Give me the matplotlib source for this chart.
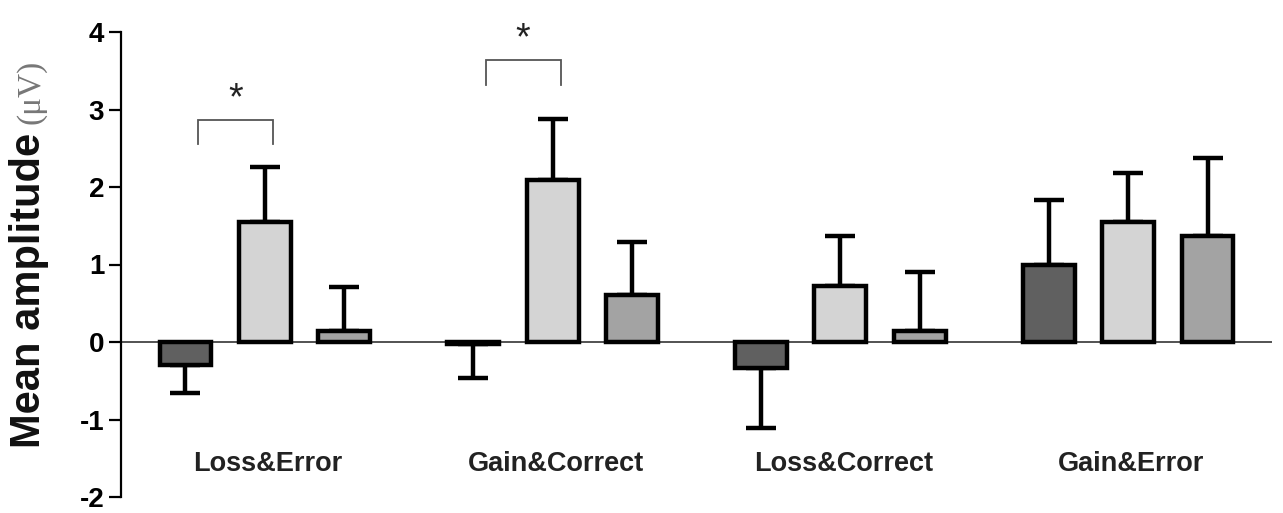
import matplotlib
matplotlib.use("Agg")
import matplotlib.pyplot as plt
import numpy as np

categories = ["Loss&Error", "Gain&Correct", "Loss&Correct", "Gain&Error"]
dark_vals = [-0.30, -0.02, -0.34, 0.99]
light_vals = [1.55, 2.09, 0.72, 1.55]
mid_vals = [0.14, 0.61, 0.14, 1.37]
dark_err = [0.36, 0.44, 0.77, 0.84]
light_err = [0.71, 0.79, 0.65, 0.63]
mid_err = [0.57, 0.68, 0.76, 1.00]
y_ticks = [-2, -1, 0, 1, 2, 3, 4]
# significance brackets: (group index, bracket top y, leg bottom y)
sig_groups = [0, 1]
sig_top = [2.86, 3.64]
sig_leg = [2.55, 3.31]

colors = ["#606060", "#d4d4d4", "#a3a3a3"]
plt.rcParams['font.family'] = ['Liberation Sans', 'DejaVu Sans']

fig = plt.figure(figsize=(12.83, 5.13), dpi=100)
ax = fig.add_axes([121/1283, 16/513, (1272-121)/1283, (497-32)/513])

x = np.arange(len(categories))
off = 0.276
w = 0.18
series = [(dark_vals, dark_err), (light_vals, light_err), (mid_vals, mid_err)]
for k, (vals, errs) in enumerate(series):
    xs = x + (k - 1) * off
    vals = np.array(vals)
    errs = np.array(errs)
    lower = np.where(vals < 0, errs, 0)
    upper = np.where(vals >= 0, errs, 0)
    ax.errorbar(xs, vals, yerr=[lower, upper], fmt='none', ecolor='black',
                elinewidth=3.2, capsize=10.5, capthick=3.2, zorder=2)
    ax.bar(xs, vals, width=w, color=colors[k], edgecolor='black',
           linewidth=3.2, zorder=3)

ax.axhline(0, color='#444444', lw=1.3, zorder=1)

for g, top, leg in zip(sig_groups, sig_top, sig_leg):
    x0 = g - 0.233
    x1 = g + 0.028
    ax.plot([x0, x0, x1, x1], [leg, top, top, leg], color='#555555', lw=1.3,
            solid_joinstyle='miter', zorder=4)
    ax.text((x0 + x1) / 2, top + 0.04, "*", ha='center', va='bottom',
            fontsize=27, color='#222222')

for i, c in enumerate(categories):
    ax.text(i + 0.01, -1.58, c, ha='center', va='center', fontsize=19.5,
            fontweight='bold', color='#222222')

ax.set_xlim(-0.5, 3.5)
ax.set_ylim(-2, 4)
ax.set_yticks(y_ticks)
ax.set_yticklabels([str(t) for t in y_ticks], fontsize=20, fontweight='bold')
ax.set_xticks([])
for s in ['top', 'right', 'bottom']:
    ax.spines[s].set_visible(False)
ax.spines['left'].set_linewidth(1.6)
ax.tick_params(axis='y', direction='out', length=9, width=1.6, pad=3)

fig.text(29/1283, (513-448)/513, "Mean amplitude", rotation=90, ha='center',
         va='bottom', fontsize=30, fontweight='bold', color='#111111')
fig.text(31/1283, (513-124)/513, "(μV)", rotation=90, ha='center',
         va='bottom', fontsize=24, color='#777777',
         family=['Liberation Serif', 'DejaVu Serif'])

fig.savefig("out.png", dpi=100)
